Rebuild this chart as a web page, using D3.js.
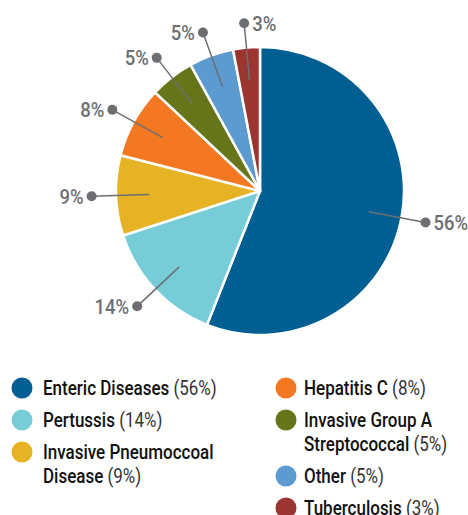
<!DOCTYPE html>
<meta charset='utf-8'>
<html>
<head>
    <script src='https://d3js.org/d3.v7.min.js'></script>
    <style>
        html, body { margin: 0; padding: 0; background: #fff; }
        svg { display: block; font-family: Roboto, 'Liberation Sans', sans-serif; }
    </style>
</head>
<body>
<script>
    // chart data
    const categories = ['Enteric Diseases', 'Pertussis', 'Invasive Pneumoccoal Disease', 'Hepatitis C',
        'Invasive Group A Streptococcal', 'Other', 'Tuberculosis'];
    const shares = [56, 14, 9, 8, 5, 5, 3];
    const colours = ['#005f92', '#77cdd7', '#e5b324', '#f47721', '#667519', '#5c9bcf', '#9b352f'];
    // legend text lines (name may wrap)
    const legendLines = [
        ['Enteric Diseases'], ['Pertussis'], ['Invasive Pneumoccoal', 'Disease'],
        ['Hepatitis C'], ['Invasive Group A', 'Streptococcal'], ['Other'], ['Tuberculosis']
    ];

    const width = 468;
    const height = 515;
    const cx = 260;
    const cy = 191;
    const radius = 144;
    // no condensed face installed, so narrow the text by hand
    const squeezeLegend = 0.85;
    const squeezeLabel = 0.88;

    const svg = d3.select('body').append('svg')
        .attr('width', width)
        .attr('height', height);

    const pie = d3.pie().sort(null).value(d => d);
    const arcs = pie(shares);

    const arc = d3.arc().innerRadius(0).outerRadius(radius);

    const g = svg.append('g').attr('transform', `translate(${cx},${cy})`);

    g.selectAll('path')
        .data(arcs)
        .enter()
        .append('path')
        .attr('d', arc)
        .attr('fill', (d, i) => colours[i])
        .attr('stroke', '#fff')
        .attr('stroke-width', 2.5)
        .attr('stroke-linejoin', 'round');

    // label leader lines
    const inner = d3.arc().innerRadius(radius * 0.77).outerRadius(radius * 0.77);
    const outer = d3.arc().innerRadius(radius * 1.17).outerRadius(radius * 1.17);
    const labelGrey = '#6d6e71';

    const labels = g.selectAll('g.lbl')
        .data(arcs)
        .enter()
        .append('g').attr('class', 'lbl');

    labels.append('line')
        .attr('x1', d => inner.centroid(d)[0])
        .attr('y1', d => inner.centroid(d)[1])
        .attr('x2', d => outer.centroid(d)[0])
        .attr('y2', d => outer.centroid(d)[1])
        .attr('stroke', labelGrey)
        .attr('stroke-width', 1.5);

    labels.append('circle')
        .attr('cx', d => outer.centroid(d)[0])
        .attr('cy', d => outer.centroid(d)[1])
        .attr('r', 5)
        .attr('fill', labelGrey);

    // text goes right of the dot on the right half and near the top
    const onRight = d => {
        const mid = (d.startAngle + d.endAngle) / 2;
        return mid < Math.PI || mid > Math.PI * 1.94;
    };

    labels.append('text')
        .attr('transform', d => {
            const p = outer.centroid(d);
            return `translate(${p[0] + (onRight(d) ? 8 : -8)},${p[1]}) scale(${squeezeLabel},1)`;
        })
        .attr('dy', '0.36em')
        .attr('text-anchor', d => onRight(d) ? 'start' : 'end')
        .attr('fill', labelGrey)
        .style('font-size', '21px')
        .style('font-weight', 500)
        .text(d => d.data + '%');

    // legend, two columns
    const columns = [[0, 1, 2], [3, 4, 5, 6]];
    const colX = [22, 286];
    const rowGap = 32;
    const lineGap = 24;

    columns.forEach((col, c) => {
        let base = 395;
        col.forEach(i => {
            const item = svg.append('g');
            item.append('circle')
                .attr('cx', colX[c])
                .attr('cy', base - 7)
                .attr('r', 10.5)
                .attr('fill', colours[i]);
            const lines = legendLines[i];
            lines.forEach((ln, k) => {
                const t = item.append('text')
                    .attr('transform', `translate(${colX[c] + (c === 0 ? 21 : 18)},${base + k * lineGap}) scale(${squeezeLegend},1)`)
                    .style('font-size', '20px')
                    .attr('fill', '#111');
                t.append('tspan').style('font-weight', 500).text(ln);
                if (k === lines.length - 1) {
                    t.append('tspan').attr('fill', '#333').style('font-weight', 400)
                        .text(' (' + shares[i] + '%)');
                }
            });
            base += rowGap + (lines.length - 1) * lineGap;
        });
    });
</script>
</body>
</html>
